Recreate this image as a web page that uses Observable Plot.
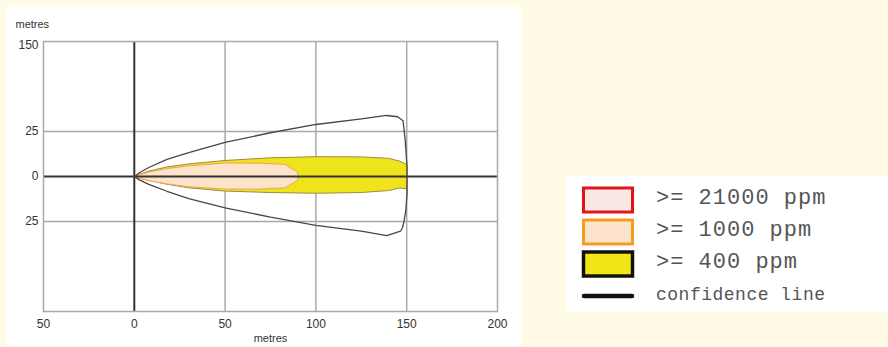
<!DOCTYPE html>
<html><head><meta charset="utf-8">
<script src="https://cdn.jsdelivr.net/npm/d3@7"></script>
<script src="https://cdn.jsdelivr.net/npm/@observablehq/plot@0.6"></script>
<style>
html,body{margin:0;padding:0;background:#fffbe4;width:888px;height:347px;overflow:hidden}
body{position:relative}
#chart{position:absolute;left:6px;top:7px;width:515px;height:340px;background:#fff}
#legend{position:absolute;left:566px;top:176px;width:322px;height:136px;background:#fff}
</style></head>
<body>
<div id="chart"></div>
<div id="legend"></div>
<script>
// Axis ticks and labels (as printed on the original)
const xTicks = [-50, 0, 50, 100, 150, 200];
const xTickLabels = ["50", "0", "50", "100", "150", "200"];
const yTicks = [75, 25, 0, -25];
const yTickLabels = ["150", "25", "0", "25"];
const gridXValues = [50, 100, 150];
const gridYValues = [25, -25];

// >= 400 ppm zone outline (metres downwind, metres crosswind)
const zone400X = [0, 3, 8, 18, 30, 50, 75, 100, 125, 140, 146, 150, 150, 146, 140, 125, 100, 75, 50, 30, 18, 8, 3, 0];
const zone400Y = [0, 1.3, 3, 5.3, 7, 8.9, 10.4, 11, 10.9, 10.1, 8.6, 6.7, -6.8, -6.4, -7.8, -8.9, -9.3, -8.9, -8.1, -6.3, -4.3, -2.2, -1, 0];

// >= 1000 ppm zone outline
const zone1000X = [0, 3, 8, 18, 30, 50, 70, 83, 90, 90, 83, 70, 50, 30, 18, 8, 3, 0];
const zone1000Y = [0, 1.1, 2.5, 4.4, 5.9, 7.5, 7.4, 6.7, 2.4, -2.2, -6.3, -7, -7, -5.7, -4.1, -2.3, -1, 0];

// Confidence line outline
const confX = [0, 3, 8, 18, 30, 50, 75, 100, 125, 139, 145, 148, 149.2, 150.2, 150.2, 149.5, 148.5, 147.8, 146.6, 139, 125, 100, 75, 50, 30, 18, 8, 3, 0];
const confY = [0, 2.2, 5, 9.5, 13.3, 19, 24.3, 28.9, 32, 33.9, 33.2, 31, 20, 5, -9.6, -18.9, -25, -28.2, -30.4, -32.8, -30.3, -27.2, -22.6, -17.4, -12.3, -8.2, -4.4, -2, 0];

const pts = (xs, ys) => xs.map((x, i) => ({x, y: ys[i]}));
const xLab = new Map(xTicks.map((t, i) => [t, xTickLabels[i]]));
const yLab = new Map(yTicks.map((t, i) => [t, yTickLabels[i]]));

const chart = Plot.plot({
  width: 515, height: 340,
  marginLeft: 37, marginRight: 24, marginTop: 34, marginBottom: 36,
  x: {domain: [-50, 200]},
  y: {domain: [-75, 75]},
  style: {background: "#fff", fontFamily: "'Liberation Sans', Arial, sans-serif", fontSize: "12px", color: "#333"},
  marks: [
    Plot.gridX(gridXValues, {stroke: "#a9a9a9", strokeOpacity: 1, strokeWidth: 1.5}),
    Plot.gridY(gridYValues, {stroke: "#a9a9a9", strokeOpacity: 1, strokeWidth: 1.5}),
    Plot.line(pts(zone400X, zone400Y), {x: "x", y: "y", fill: "#efe41b", stroke: "#9c8c3c", strokeWidth: 1}),
    Plot.line(pts(zone1000X, zone1000Y), {x: "x", y: "y", fill: "#fde3c9", stroke: "#eca45e", strokeWidth: 1}),
    Plot.ruleX([0], {stroke: "#333", strokeWidth: 2}),
    Plot.ruleY([0], {stroke: "#333", strokeWidth: 2}),
    Plot.line(pts(confX, confY), {x: "x", y: "y", stroke: "#4d4444", strokeWidth: 1.3}),
    Plot.frame({stroke: "#a9a9a9", strokeWidth: 1.5}),
    Plot.axisX(xTicks, {tickSize: 0, tickPadding: 8, tickFormat: d => xLab.get(d), label: null}),
    Plot.axisY(yTicks.filter(t => t !== 75), {tickSize: 0, tickPadding: 5, tickFormat: d => yLab.get(d), label: null}),
    Plot.axisY([75], {tickSize: 0, tickPadding: 5, dy: 4, tickFormat: d => yLab.get(d), label: null}),
    Plot.text(["metres"], {text: d => d, frameAnchor: "bottom", dy: 30, fontSize: 11}),
    Plot.text(["metres"], {text: d => d, frameAnchor: "top-left", textAnchor: "start", dx: -28, dy: -21, fontSize: 11})
  ]
});
document.getElementById("chart").appendChild(chart);

// Legend
const legendLabels = [">= 21000 ppm", ">= 1000 ppm", ">= 400 ppm", "confidence line"];
const legendFills = ["#fbe7e4", "#fde3cb", "#f0e617"];
const legendStrokes = ["#e1141c", "#f39c1e", "#111"];
const ns = "http://www.w3.org/2000/svg";
const svg = document.createElementNS(ns, "svg");
svg.setAttribute("width", 322); svg.setAttribute("height", 136);
const rectY = [12, 44, 76];
legendFills.forEach((f, i) => {
  const r = document.createElementNS(ns, "rect");
  r.setAttribute("x", 17.5); r.setAttribute("y", rectY[i]);
  r.setAttribute("width", 49); r.setAttribute("height", 24);
  r.setAttribute("fill", f); r.setAttribute("stroke", legendStrokes[i]);
  r.setAttribute("stroke-width", i === 2 ? 3.5 : 3);
  svg.appendChild(r);
});
const ln = document.createElementNS(ns, "line");
ln.setAttribute("x1", 18); ln.setAttribute("x2", 66); ln.setAttribute("y1", 120); ln.setAttribute("y2", 120);
ln.setAttribute("stroke", "#111"); ln.setAttribute("stroke-width", 4.5); ln.setAttribute("stroke-linecap", "round");
svg.appendChild(ln);
const textY = [27.5, 59.7, 91.5, 124];
legendLabels.forEach((t, i) => {
  const tx = document.createElementNS(ns, "text");
  tx.setAttribute("x", 90); tx.setAttribute("y", textY[i]);
  tx.setAttribute("fill", "#555");
  tx.setAttribute("font-family", "'Liberation Mono', 'Courier New', monospace");
  tx.setAttribute("font-size", i === 3 ? 18 : 22);
  tx.setAttribute("letter-spacing", i === 3 ? 0.5 : 1);
  tx.textContent = t;
  svg.appendChild(tx);
});
document.getElementById("legend").appendChild(svg);
</script>
</body></html>
